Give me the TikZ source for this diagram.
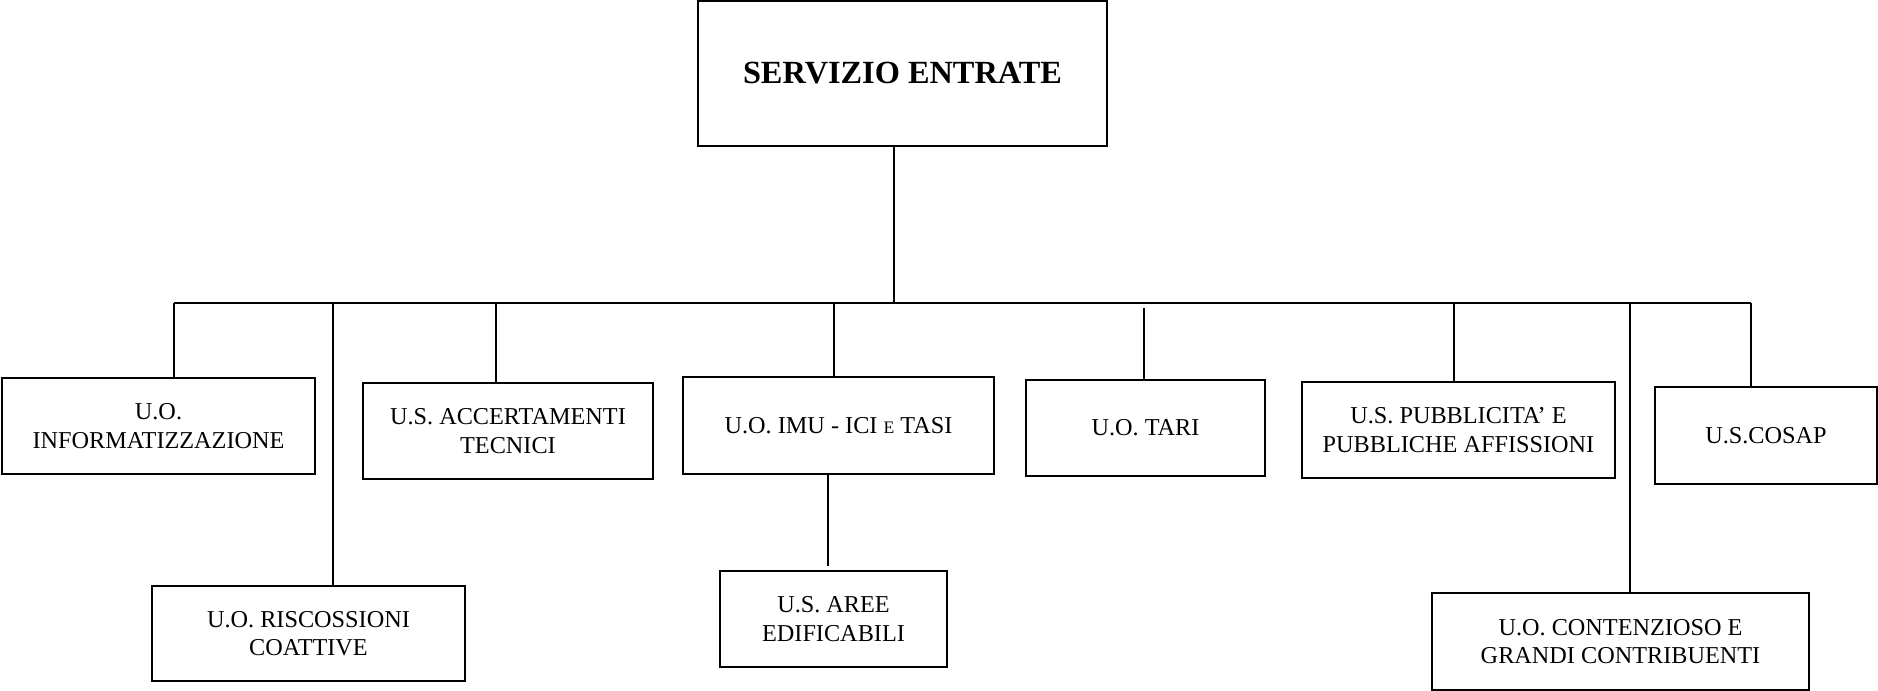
\documentclass[tikz,border=0pt]{standalone}
\usepackage{fontspec}
\setmainfont{Liberation Serif}
\tikzset
{
  UnitNodeStyle/.style =
  {
    shape = rectangle,
    draw,
    line width = 0.7pt,
    align = center,
    inner sep = 0pt,
    font = \fontsize{6.9}{8.1}\selectfont,
  },
  LinkStyle/.style =
  {
    line width = 0.6pt,
  }
}

\begin{document}
\begin{tikzpicture}
  \useasboundingbox (0,0) rectangle (18.78,-6.91);

  % head of the service
  \node[UnitNodeStyle, minimum width=4.09cm, minimum height=1.45cm,
        font=\fontsize{9.2}{11}\selectfont\bfseries] (servizio) at (9.025,-0.735) {SERVIZIO ENTRATE};

  % first row of units
  \node[UnitNodeStyle, minimum width=3.13cm, minimum height=0.96cm] (informatizzazione) at (1.585,-4.26) {U.O.\\INFORMATIZZAZIONE};
  \node[UnitNodeStyle, minimum width=2.90cm, minimum height=0.96cm] (accertamenti) at (5.08,-4.31) {U.S. ACCERTAMENTI\\TECNICI};
  \node[UnitNodeStyle, minimum width=3.11cm, minimum height=0.97cm] (imu) at (8.385,-4.255) {U.O. IMU - ICI {\fontsize{5}{6}\selectfont E} TASI};
  \node[UnitNodeStyle, minimum width=2.39cm, minimum height=0.96cm] (tari) at (11.455,-4.28) {U.O. TARI};
  \node[UnitNodeStyle, minimum width=3.13cm, minimum height=0.96cm] (pubblicita) at (14.585,-4.30) {U.S. PUBBLICITA' E\\PUBBLICHE AFFISSIONI};
  \node[UnitNodeStyle, minimum width=2.22cm, minimum height=0.97cm] (cosap) at (17.66,-4.355) {U.S.COSAP};

  % second row of units
  \node[UnitNodeStyle, minimum width=3.13cm, minimum height=0.95cm] (riscossioni) at (3.085,-6.335) {U.O. RISCOSSIONI\\COATTIVE};
  \node[UnitNodeStyle, minimum width=2.27cm, minimum height=0.96cm] (aree) at (8.335,-6.19) {U.S. AREE\\EDIFICABILI};
  \node[UnitNodeStyle, minimum width=3.77cm, minimum height=0.97cm] (contenzioso) at (16.205,-6.415) {U.O. CONTENZIOSO E\\GRANDI CONTRIBUENTI};

  % points on the bus
  \coordinate (busHead) at (8.94,-3.03);
  \coordinate (busInfo) at (1.74,-3.03);
  \coordinate (busRisc) at (3.33,-3.03);
  \coordinate (busAcc) at (4.96,-3.03);
  \coordinate (busImu) at (8.34,-3.03);
  \coordinate (busTari) at (11.44,-3.03);
  \coordinate (busPubb) at (14.54,-3.03);
  \coordinate (busCont) at (16.30,-3.03);
  \coordinate (busCosap) at (17.51,-3.03);
  \coordinate (linkAree) at (8.28,-4.74);

  % connectors
  \draw[LinkStyle] (busHead |- servizio.south) -- (busHead);
  \draw[LinkStyle] (busInfo) -- (busCosap);
  \draw[LinkStyle] (busInfo) -- (busInfo |- informatizzazione.north);
  \draw[LinkStyle] (busRisc) -- (busRisc |- riscossioni.north);
  \draw[LinkStyle] (busAcc) -- (busAcc |- accertamenti.north);
  \draw[LinkStyle] (busImu) -- (busImu |- imu.north);
  \draw[LinkStyle, shorten <=0.05cm] (busTari) -- (busTari |- tari.north);
  \draw[LinkStyle] (busPubb) -- (busPubb |- pubblicita.north);
  \draw[LinkStyle] (busCont) -- (busCont |- contenzioso.north);
  \draw[LinkStyle] (busCosap) -- (busCosap |- cosap.north);
  \draw[LinkStyle, shorten >=0.04cm] (linkAree) -- (linkAree |- aree.north);
\end{tikzpicture}
\end{document}
